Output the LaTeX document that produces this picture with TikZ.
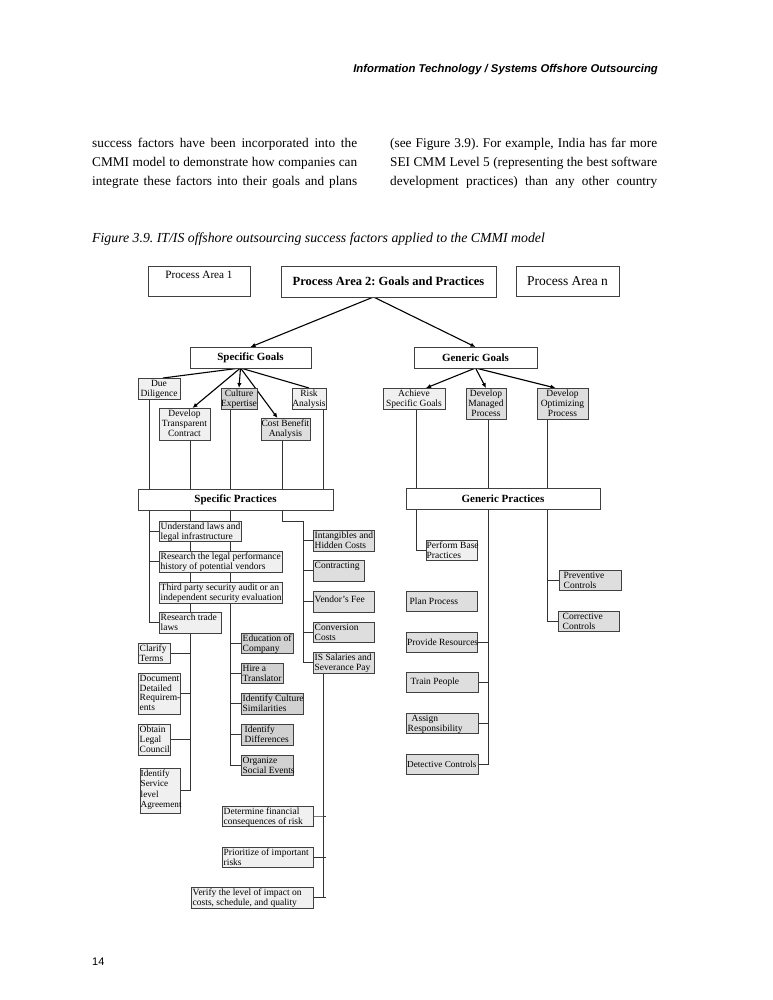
\documentclass[tikz,border=0pt]{standalone}
\usepackage{fontspec}
\setmainfont{Liberation Serif}
\newfontfamily\hdfont{Liberation Sans}
\usetikzlibrary{arrows.meta,backgrounds}
\frenchspacing

\tikzset{
  pbox/.style={draw=black!75, line width=0.8pt, inner sep=0pt, outer sep=0pt, anchor=north west},
  ptext/.style={inner xsep=1.5pt, inner ysep=1.8pt, font=\fontsize{9.5}{9.8}\selectfont, align=left},
  tbold/.style={font=\bfseries\fontsize{11}{12}\selectfont},
  g0/.style={fill=white},
  g1/.style={fill=black!6},
  g2/.style={fill=black!13},
  g3/.style={fill=black!18},
  link/.style={draw=black!80, line width=0.85pt},
  goal/.style={draw=black, line width=1.1pt, -{Latex[length=5pt,width=4.5pt]}},
  bodyline/.style={anchor=base west, inner sep=0pt, font=\fontsize{13.3}{19}\selectfont},
}

% box of given size, text set at one of its anchors
\newcommand{\procbox}[9]{%
  \node[pbox, #6, minimum width=#4pt, minimum height=#5pt] (#1) at (#2,#3) {};
  \node[ptext, anchor=#7, #8] (#1-t) at (#1.#7) {#9};}

\begin{document}
\begin{tikzpicture}[x=1pt, y=-1pt]
\begin{scope}[on background layer]
  \fill[white] (0,0) rectangle (772,1000);
\end{scope}
\useasboundingbox (0,0) rectangle (772,1000);

% page text
\node[anchor=base east, inner sep=0pt, font=\hdfont\bfseries\itshape\fontsize{11.3}{13}\selectfont] (head) at (658,73) {Information Technology / Systems Offshore Outsourcing};
\node[bodyline] (l1) at (92,148) {\makebox[265pt][s]{success factors have been incorporated into the}};
\node[bodyline] (l2) at (92,167) {\makebox[265pt][s]{CMMI model to demonstrate how companies can}};
\node[bodyline] (l3) at (92,186) {\makebox[265pt][s]{integrate these factors into their goals and plans}};
\node[bodyline] (r1) at (390,148) {\makebox[267pt][s]{(see Figure 3.9). For example, India has far more}};
\node[bodyline] (r2) at (390,167) {\makebox[267pt][s]{SEI CMM Level 5 (representing the best software}};
\node[bodyline] (r3) at (390,186) {\makebox[267pt][s]{development practices) than any other country}};
\node[anchor=base west, inner sep=0pt, font=\itshape\fontsize{13.8}{16}\selectfont] (caption) at (92,242) {Figure 3.9. IT/IS offshore outsourcing success factors applied to the CMMI model};
\node[anchor=base west, inner sep=0pt, font=\hdfont\fontsize{11}{13}\selectfont] (pagenum) at (92,965) {14};

% process areas and goals
\procbox{pa1}{148}{266}{102}{30}{g0}{north}{align=center, yshift=-3pt, font=\fontsize{11.2}{13}\selectfont}{Process Area 1}
\procbox{pa2}{281}{266}{215}{31}{g0}{center}{font=\bfseries\fontsize{12.5}{14}\selectfont}{Process Area 2: Goals and Practices}
\procbox{pan}{516}{266}{103}{30}{g0}{center}{font=\fontsize{13.5}{15}\selectfont}{Process Area n}
\procbox{sgoals}{190}{347}{121}{21}{g0}{center}{tbold}{Specific Goals}
\procbox{ggoals}{414}{347}{123}{21}{g0}{center}{tbold}{Generic Goals}

\procbox{due}{138}{378}{42}{21}{g1}{north}{align=center}{Due\\Diligence}
\procbox{devtc}{159}{408}{51}{32}{g1}{north}{align=center}{Develop\\Transparent\\Contract}
\procbox{culture}{221}{388}{36}{21}{g3}{north}{align=center}{Culture\\Expertise}
\procbox{cost}{261}{418}{49}{22}{g2}{north}{align=center}{Cost Benefit\\Analysis}
\procbox{risk}{292}{388}{34}{21}{g1}{north}{align=center}{Risk\\Analysis}
\procbox{achieve}{383}{388}{62}{21}{g1}{north}{align=center}{Achieve\\Specific Goals}
\procbox{managed}{466}{388}{40}{31}{g2}{north}{align=center}{Develop\\Managed\\Process}
\procbox{optim}{537}{388}{51}{31}{g2}{north}{align=center}{Develop\\Optimizing\\Process}

% practices
\procbox{spract}{138}{489}{195}{21}{g0}{center}{tbold}{Specific Practices}
\procbox{gpract}{406}{488}{194}{21}{g0}{center}{tbold}{Generic Practices}

\procbox{understand}{159}{521}{82}{20}{g1}{north west}{}{Understand laws and\\legal infrastructure}
\procbox{rlegal}{159}{551}{123}{21}{g1}{north west}{}{Research the legal performance\\history of potential vendors}
\procbox{thirdp}{159}{582}{123}{21}{g1}{north west}{}{Third party security audit or an\\independent security evaluation}
\procbox{rtrade}{159}{612}{62}{21}{g1}{north west}{}{Research trade\\laws}
\procbox{clarify}{138}{643}{32}{20}{g1}{north west}{}{Clarify\\Terms}
\procbox{document}{138}{673}{42}{41}{g1}{north west}{}{Document\\Detailed\\Requirem-\\ents}
\procbox{obtain}{138}{724}{32}{31}{g1}{north west}{}{Obtain\\Legal\\Council}
\procbox{service}{140}{768}{40}{45}{g1}{north west}{inner xsep=0.5pt, font=\fontsize{9.2}{10.3}\selectfont}{Identify\\Service\\level\\Agreement}

\procbox{education}{241}{633}{52}{20}{g3}{north west}{}{Education of\\Company}
\procbox{translator}{241}{663}{42}{20}{g3}{north west}{}{Hire a\\Translator}
\procbox{culturesim}{241}{693}{62}{21}{g3}{north west}{}{Identify Culture\\Similarities}
\procbox{differences}{241}{724}{52}{21}{g3}{north west}{xshift=2pt}{Identify\\Differences}
\procbox{social}{241}{755}{52}{20}{g3}{north west}{}{Organize\\Social Events}

\procbox{intangibles}{313}{530}{61}{21}{g2}{north west}{}{Intangibles and\\Hidden Costs}
\procbox{contracting}{313}{560}{51}{21}{g2}{north west}{}{Contracting}
\procbox{vendor}{313}{591}{61}{21}{g2}{west}{yshift=2pt}{Vendor’s Fee}
\procbox{conversion}{313}{622}{61}{20}{g2}{north west}{}{Conversion\\Costs}
\procbox{salaries}{313}{652}{61}{21}{g2}{north west}{}{IS Salaries and\\Severance Pay}

\procbox{determine}{222}{806}{91}{20}{g1}{north west}{}{Determine financial\\consequences of risk}
\procbox{prioritize}{222}{847}{91}{20}{g1}{north west}{}{Prioritize of important\\risks}
\procbox{verify}{191}{887}{122}{21}{g1}{north west}{}{Verify the level of impact on\\costs, schedule, and quality}

\procbox{perform}{426}{540}{51}{20}{g1}{north west}{inner xsep=0.5pt}{Perform Base\\Practices}
\procbox{plan}{406}{591}{71}{20}{g2}{west}{xshift=2pt}{Plan Process}
\procbox{provide}{406}{632}{71}{20}{g2}{west}{inner xsep=1pt}{Provide Resources}
\procbox{train}{406}{672}{72}{20}{g2}{west}{xshift=3pt}{Train People}
\procbox{assign}{406}{713}{72}{20}{g2}{north west}{}{\hspace*{4pt}Assign\\Responsibility}
\procbox{detective}{406}{754}{72}{20}{g2}{west}{inner xsep=1pt, font=\fontsize{9.2}{9.8}\selectfont}{Detective Controls}
\procbox{preventive}{559}{570}{62}{20}{g2}{north west}{xshift=3pt}{Preventive\\Controls}
\procbox{corrective}{558}{611}{61}{20}{g2}{north west}{xshift=3pt}{Corrective\\Controls}

% trunk points under the practices boxes
\coordinate (sp1) at (149,510);
\coordinate (sp2) at (190,510);
\coordinate (sp3) at (230,510);
\coordinate (sp4) at (282,510);
\coordinate (sp5) at (303,521);
\coordinate (sp6) at (323,673);
\coordinate (gp1) at (416,509);
\coordinate (gp2) at (488,509);
\coordinate (gp3) at (547,509);

\begin{scope}[on background layer]
  % arrows down from the process area
  \draw[goal] ([xshift=-15pt]pa2.south) -- (sgoals.north);
  \draw[goal] ([xshift=-15pt]pa2.south) -- (ggoals.north);
  \draw[goal, -] ([xshift=-10pt]sgoals.south) -- ([xshift=4pt]due.north);
  \draw[goal] ([xshift=-10pt]sgoals.south) -- ([xshift=8pt]devtc.north);
  \draw[goal] ([xshift=-10pt]sgoals.south) -- (culture.north);
  \draw[goal] ([xshift=-10pt]sgoals.south) -- ([xshift=-8pt]cost.north);
  \draw[goal, -] ([xshift=-10pt]sgoals.south) -- (risk.north);
  \draw[goal] (ggoals.south) -- ([xshift=12pt]achieve.north);
  \draw[goal] (ggoals.south) -- (managed.north);
  \draw[goal] (ggoals.south) -- ([xshift=-7pt]optim.north);

  % goals to practices
  \foreach \t/\b in {sp1/due, sp2/devtc, sp3/culture, sp4/cost, sp6/risk}
    \draw[link] (\t |- \b.south) -- (\t |- spract.north);
  \foreach \t/\b in {gp1/achieve, gp2/managed, gp3/optim}
    \draw[link] (\t |- \b.south) -- (\t |- gpract.north);

  % specific practices
  \draw[link] (sp1) |- (rtrade.west);
  \foreach \b in {understand, rlegal}
    \draw[link] (sp1 |- \b.west) -- (\b.west);
  \draw[link] (sp2) |- (service.east);
  \foreach \b in {clarify, document, obtain}
    \draw[link] (sp2 |- \b.east) -- (\b.east);
  \draw[link] (sp3) |- (social.west);
  \foreach \b in {education, translator, culturesim, differences}
    \draw[link] (sp3 |- \b.west) -- (\b.west);
  \draw[link] (sp4) |- (sp5) |- (salaries.west);
  \foreach \b in {intangibles, contracting, vendor, conversion}
    \draw[link] (sp5 |- \b.west) -- (\b.west);
  \draw[link] (sp6) -- (sp6 |- verify.east);
  \foreach \b in {determine, prioritize, verify}
    \draw[link] (\b.east) -- (sp6 |- \b.east) -- ++(3,0);

  % generic practices
  \draw[link] (gp1) |- (perform.west);
  \draw[link] (gp2) |- (detective.east);
  \foreach \b in {provide, train, assign}
    \draw[link] (gp2 |- \b.east) -- (\b.east);
  \draw[link] (gp3) |- (corrective.west);
  \draw[link] (gp3 |- preventive.west) -- (preventive.west);
\end{scope}
\end{tikzpicture}
\end{document}
